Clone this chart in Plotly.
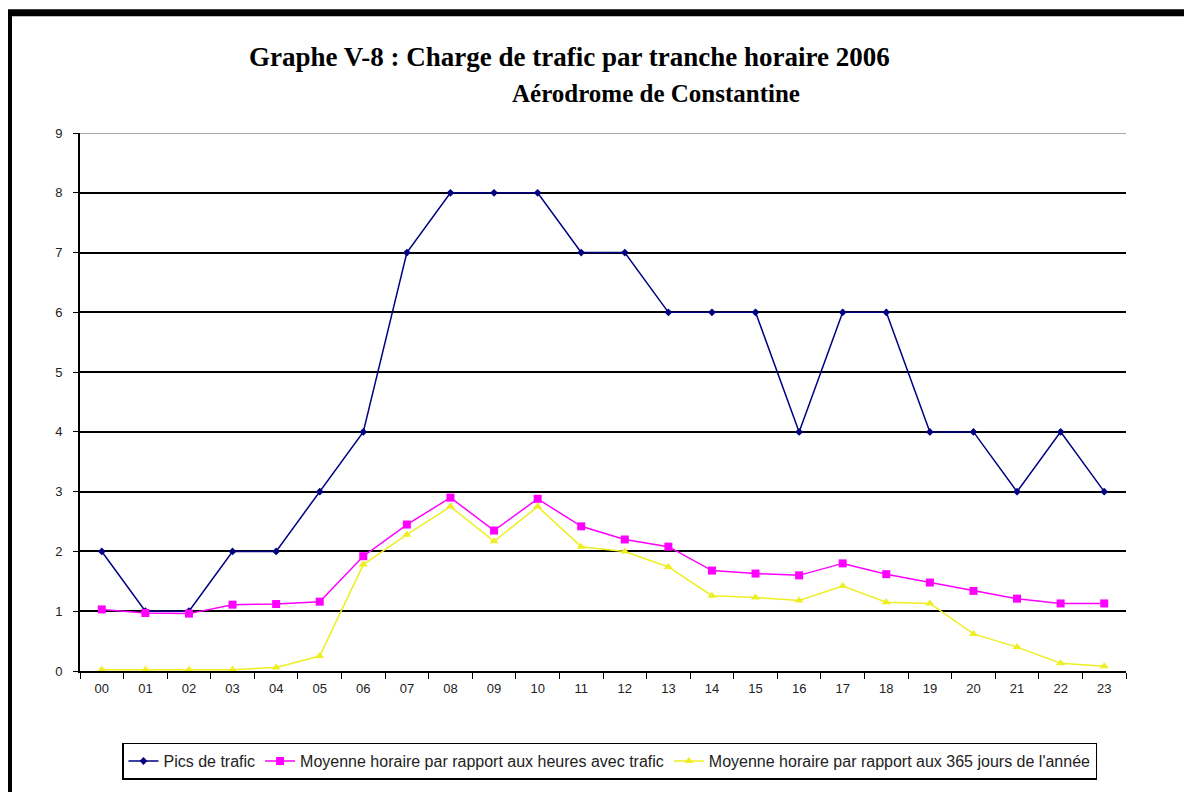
import plotly.graph_objects as go

hours = [f"{h:02d}" for h in range(24)]
pics = [2, 1, 1, 2, 2, 3, 4, 7, 8, 8, 8, 7, 7, 6, 6, 6, 4, 6, 6, 4, 4, 3, 4, 3]
moy_trafic = [1.03, 0.97, 0.96, 1.11, 1.12, 1.16, 1.92, 2.45, 2.9, 2.35, 2.88, 2.42,
              2.2, 2.08, 1.68, 1.63, 1.6, 1.8, 1.62, 1.48, 1.34, 1.21, 1.13, 1.13]
moy_annee = [0.02, 0.02, 0.02, 0.02, 0.06, 0.25, 1.78, 2.28, 2.75, 2.17, 2.75, 2.08,
             2.0, 1.74, 1.26, 1.23, 1.18, 1.42, 1.15, 1.13, 0.62, 0.4, 0.13, 0.08]
names = ["Pics de trafic",
         "Moyenne horaire par rapport aux heures avec trafic",
         "Moyenne horaire par rapport aux 365 jours de l'année"]

fig = go.Figure()
fig.add_trace(go.Scatter(x=hours, y=pics, name=names[0], mode="lines+markers",
                         line=dict(color="#000080", width=1.5),
                         marker=dict(symbol="diamond", size=6, color="#000080")))
fig.add_trace(go.Scatter(x=hours, y=moy_trafic, name=names[1], mode="lines+markers",
                         line=dict(color="#FF00FF", width=1.5),
                         marker=dict(symbol="square", size=8, color="#FF00FF")))
fig.add_trace(go.Scatter(x=hours, y=moy_annee, name=names[2], mode="lines+markers",
                         line=dict(color="#EEEE22", width=1.5),
                         marker=dict(symbol="triangle-up", size=8, color="#EEEE22")))

# page offset of the figure (browser body margin)
OX, OY = 8, 8
W, H = 1176, 784
# desired plot area in page coordinates
PL, PR, PT, PB = 80, 1126, 133, 674
L, T = PL - OX, PT - OY
R = W - (PR - OX)
B = H - (PB - OY)
pw, ph = PR - PL, PB - PT

def px(x):
    return (x - PL) / pw

def py(y):
    return (PB - y) / ph

shapes = [
    dict(type="line", xref="paper", yref="paper", x0=px(0), x1=px(1200), y0=py(12), y1=py(12),
         line=dict(color="black", width=7)),
    dict(type="line", xref="paper", yref="paper", x0=px(10), x1=px(10), y0=py(10), y1=py(810),
         line=dict(color="black", width=4)),
    dict(type="line", xref="paper", yref="y", x0=0, x1=1, y0=9, y1=9,
         line=dict(color="#888888", width=1.5)),
]

fig.update_layout(
    width=W, height=H,
    margin=dict(l=L, r=R, t=T, b=B),
    paper_bgcolor="white", plot_bgcolor="white",
    font=dict(family="Liberation Sans, Arial", size=13, color="#222"),
    showlegend=True,
    legend=dict(orientation="h", x=px(122), y=py(746), xanchor="left", yanchor="top",
                bordercolor="black", borderwidth=1.5, font=dict(size=16, color="#222"),
                itemwidth=30, tracegroupgap=0),
    shapes=shapes,
    annotations=[
        dict(text="<b>Graphe V-8 : Charge de trafic par tranche horaire 2006</b>", xref="paper", yref="paper",
             x=px(569), y=py(57), xanchor="center", yanchor="middle", showarrow=False,
             font=dict(family="Liberation Serif, Times New Roman", size=27, color="black")),
        dict(text="<b>Aérodrome de Constantine</b>", xref="paper", yref="paper",
             x=px(656), y=py(93), xanchor="center", yanchor="middle", showarrow=False,
             font=dict(family="Liberation Serif, Times New Roman", size=25, color="black")),
    ],
)
fig.update_xaxes(type="category", range=[-0.5, 23.5], autorange=False, showgrid=False,
                 showline=True, linecolor="black", linewidth=2,
                 ticks="outside", tickson="boundaries", ticklen=6, tickcolor="black",
                 tickfont=dict(size=13), ticklabelstandoff=4, zeroline=False)
fig.update_yaxes(range=[0, 9], dtick=1, showgrid=True, gridcolor="black", gridwidth=1.5,
                 showline=True, linecolor="black", linewidth=2, ticks="outside", ticklen=5,
                 tickcolor="black", tickfont=dict(size=13), ticklabelstandoff=8,
                 zeroline=True, zerolinecolor="black", zerolinewidth=2)

fig.write_html("out.html")
